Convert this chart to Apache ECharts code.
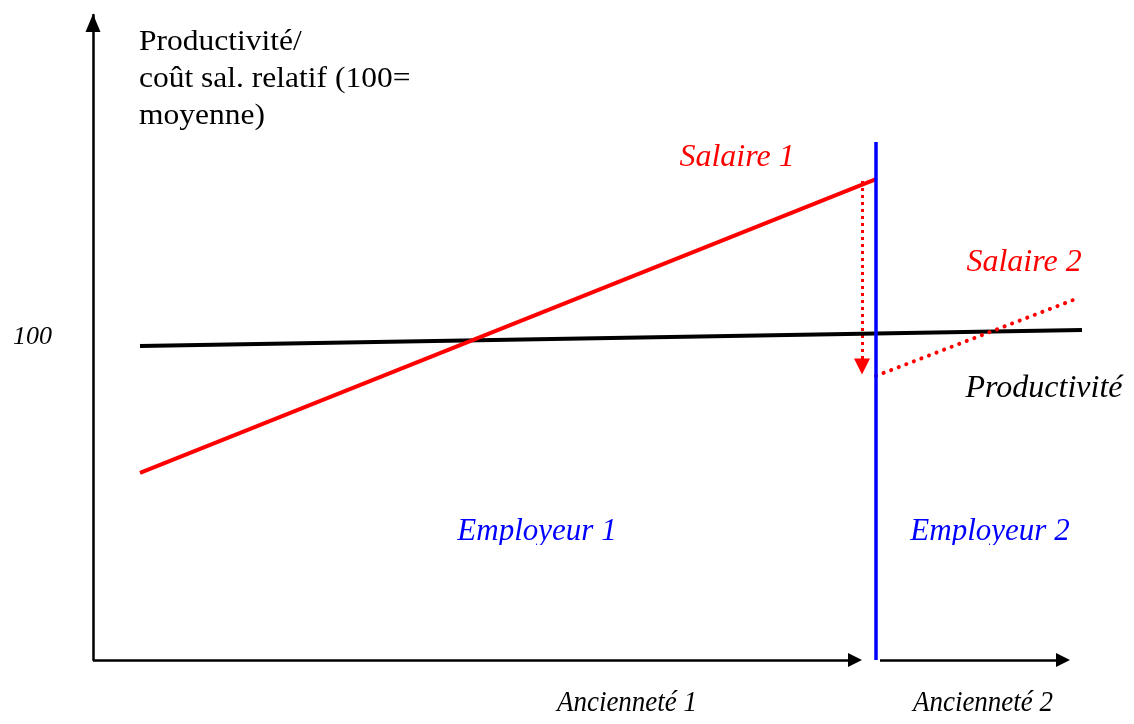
<!DOCTYPE html>
<html>
<head>
<meta charset="utf-8">
<script src="https://cdn.jsdelivr.net/npm/echarts@6/dist/echarts.min.js"></script>
<style>
html,body{margin:0;padding:0;background:#fff}
#main{width:1134px;height:724px}
</style>
</head>
<body>
<div id="main"></div>
<script>
// courbes en (ancienneté, indice 100 = moyenne)
const productivite = [[4.7, 97.4], [98.9, 102.3]]
const salaire1 = [[4.7, 58.0], [78.3, 149.1]]
const salaire2 = [[78.3, 88.1], [98.5, 112.2]]
const rupture = [[78.3, 0], [78.3, 160.6]]
const chute = [[76.9, 148.5], [76.9, 91]]
const axeX1 = [[0, 0], [76.2, 0]]
const axeX2 = [[78.7, 0], [97.0, 0]]
const yTicks = [100]

const serif = '"Liberation Serif", "DejaVu Serif", serif'
const red = '#ff0000'
const blue = '#0000ff'

const myChart = echarts.init(document.getElementById('main'))

function txt(text, x, y, color, size, italic, align, sx) {
    return {
        type: 'text', x: x, y: y, scaleX: sx || 1,
        style: {
            text: text, fill: color,
            font: (italic ? 'italic ' : '') + size + 'px ' + serif,
            align: align || 'left', verticalAlign: 'middle', lineHeight: 37
        }
    }
}

myChart.setOption({
    backgroundColor: '#fff',
    animation: false,
    grid: {left: 93, right: 41, top: 15, bottom: 64},
    xAxis: {type: 'value', min: 0, max: 100, show: false},
    yAxis: {
        type: 'value', min: 0, max: 200,
        axisLine: {
            show: true, symbol: ['none', 'triangle'], symbolSize: [15, 18],
            symbolOffset: [0, -8],
            lineStyle: {color: '#000', width: 2.5}
        },
        axisTick: {show: false},
        splitLine: {show: false},
        axisLabel: {
            customValues: yTicks, margin: 41,
            fontFamily: serif, fontStyle: 'italic', fontSize: 26, color: '#000'
        }
    },
    graphic: [
        txt('Productivité/\ncoût sal. relatif (100=\nmoyenne)', 139, 79, '#000', 30, false, 'left', 1.05),
        txt('Salaire 1', 737, 158, red, 32, true, 'center'),
        txt('Salaire 2', 1024, 263, red, 32, true, 'center'),
        txt('Productivité', 1044, 389, '#000', 32, true, 'center'),
        txt('Employeur 1', 537, 532, blue, 31, true, 'center'),
        txt('Employeur 2', 990, 532, blue, 31, true, 'center'),
        txt('Ancienneté 1', 627, 703, '#000', 30, true, 'center', 0.9),
        txt('Ancienneté 2', 983, 703, '#000', 30, true, 'center', 0.9),
        // bas des textes Employeur coupé
        {type: 'rect', shape: {x: 430, y: 545, width: 444, height: 30}, style: {fill: '#fff'}},
        {type: 'rect', shape: {x: 879, y: 545, width: 220, height: 30}, style: {fill: '#fff'}}
    ],
    series: [
        {
            type: 'line', data: productivite, symbol: 'none',
            lineStyle: {color: '#000', width: 4}
        },
        {
            type: 'line', data: salaire1, symbol: 'none',
            lineStyle: {color: red, width: 4}
        },
        {
            type: 'line', data: salaire2, symbol: 'none',
            lineStyle: {color: red, width: 4, type: [0.1, 8], cap: 'round'}
        },
        {
            type: 'line', data: rupture, symbol: 'none',
            lineStyle: {color: blue, width: 3.5}
        },
        {
            type: 'lines', coordinateSystem: 'cartesian2d', clip: false,
            symbol: ['none', 'triangle'], symbolSize: 16,
            lineStyle: {color: red, width: 3, type: [3, 4], opacity: 1},
            data: [{coords: chute}]
        },
        {
            type: 'lines', coordinateSystem: 'cartesian2d', clip: false,
            symbol: ['none', 'triangle'], symbolSize: 14,
            lineStyle: {color: '#000', width: 2.5, opacity: 1},
            data: [{coords: axeX1}, {coords: axeX2}]
        }
    ]
})
</script>
</body>
</html>
